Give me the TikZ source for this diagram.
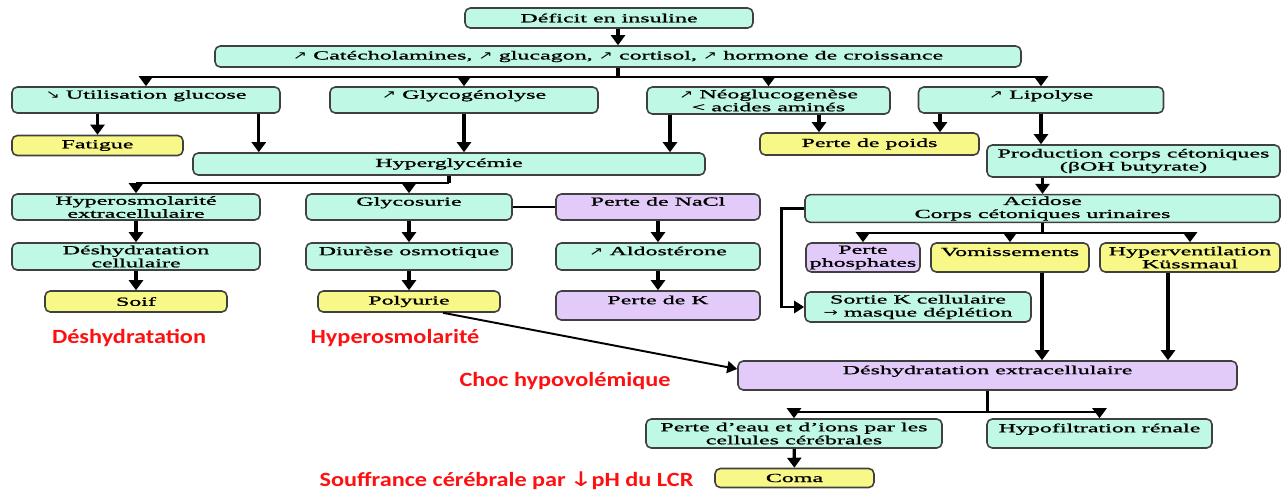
\documentclass[tikz,border=0pt]{standalone}
\usepackage{fontspec}
\setmainfont{Liberation Serif}[FakeStretch=1.95,FakeBold=1.2]
\newfontfamily\symfont{DejaVu Sans}[FakeStretch=1.5]
\newfontfamily\redfont{Carlito}[FakeStretch=1.2]
\usetikzlibrary{arrows.meta,calc}
\definecolor{cmint}{HTML}{BFF8E4}
\definecolor{cyel}{HTML}{F8F888}
\definecolor{cpurp}{HTML}{E2CBF8}
\definecolor{cred}{HTML}{FF1010}
\newcommand{\incr}{{\symfont\fontsize{6.5}{6.5}\selectfont ↗}}
\newcommand{\decr}{{\symfont\fontsize{6.5}{6.5}\selectfont ↘}}
\newcommand{\toarr}{{\symfont\fontsize{6.5}{6.5}\selectfont →}}

\begin{document}
\begin{tikzpicture}[
  box/.style={draw=black!75, line width=0.9pt, rounded corners=3pt, fill=cmint, inner sep=1pt, align=center, font=\fontsize{7}{7.4}\selectfont},
  ybox/.style={box, fill=cyel},
  pbox/.style={box, fill=cpurp},
  arr/.style={-{Triangle[length=2mm,width=2.8mm]}, line width=1.9pt},
  thinarr/.style={-{Triangle[length=2mm,width=2.4mm]}, line width=1.1pt},
  stem/.style={line width=1.9pt},
  bus/.style={line width=1.2pt},
  lab/.style={font=\redfont\bfseries\fontsize{11.5}{12}\selectfont, text=cred},
]
  \useasboundingbox (0,0) rectangle (25.66,-9.86);

  % Top: hormones
  \node[box, minimum width=5.76cm, minimum height=0.40cm] (def) at (12.18,-0.36) {Déficit en insuline};
  \node[box, minimum width=16.12cm, minimum height=0.42cm] (cat) at (12.36,-1.13) {\incr{} Catécholamines, \incr{} glucagon, \incr{} cortisol, \incr{} hormone de croissance};

  \node[box, minimum width=5.36cm, minimum height=0.52cm] (util) at (2.92,-2.00) {\decr{} Utilisation glucose\\[-1ex]\strut};
  \node[box, minimum width=5.36cm, minimum height=0.52cm] (glyco) at (9.28,-2.00) {\incr{} Glycogénolyse\\[-1ex]\strut};
  \node[box, minimum width=4.86cm, minimum height=0.54cm] (neo) at (15.37,-2.01) {\incr{} Néoglucogenèse\\< acides aminés};
  \node[box, minimum width=4.90cm, minimum height=0.52cm] (lipo) at (20.82,-2.00) {\incr{} Lipolyse\\[-1ex]\strut};

  \node[ybox, minimum width=3.42cm, minimum height=0.40cm] (fat) at (1.95,-2.91) {Fatigue};
  \node[box, minimum width=10.24cm, minimum height=0.44cm] (hyper) at (8.98,-3.28) {Hyperglycémie};
  \node[ybox, minimum width=4.38cm, minimum height=0.44cm] (poids) at (17.39,-2.88) {Perte de poids};
  \node[box, minimum width=5.86cm, minimum height=0.64cm] (keto) at (22.67,-3.22) {Production corps cétoniques\\(βOH butyrate)};

  % Middle: osmotic side and acidosis side
  \node[box, minimum width=4.96cm, minimum height=0.52cm] (hyperosm) at (2.72,-4.14) {Hyperosmolarité\\extracellulaire};
  \node[box, minimum width=4.12cm, minimum height=0.52cm] (glycos) at (8.18,-4.14) {Glycosurie\\[-1ex]\strut};
  \node[pbox, minimum width=4.08cm, minimum height=0.52cm] (nacl) at (13.16,-4.14) {Perte de NaCl\\[-1ex]\strut};
  \node[box, minimum width=9.50cm, minimum height=0.54cm] (acid) at (20.85,-4.17) {Acidose\\Corps cétoniques urinaires};

  \node[box, minimum width=4.96cm, minimum height=0.54cm] (deshyc) at (2.72,-5.13) {Déshydratation\\cellulaire};
  \node[box, minimum width=4.12cm, minimum height=0.54cm] (diur) at (8.18,-5.13) {Diurèse osmotique\\[-1ex]\strut};
  \node[box, minimum width=4.08cm, minimum height=0.54cm] (aldo) at (13.16,-5.13) {\incr{} Aldostérone\\[-1ex]\strut};
  \node[pbox, minimum width=2.28cm, minimum height=0.58cm] (phos) at (17.26,-5.15) {Perte\\phosphates};
  \node[ybox, minimum width=3.16cm, minimum height=0.58cm] (vomi) at (20.20,-5.15) {Vomissements\\[-1ex]\strut};
  \node[ybox, minimum width=3.60cm, minimum height=0.58cm] (hyperv) at (23.80,-5.15) {Hyperventilation\\Küssmaul};

  \node[ybox, minimum width=3.64cm, minimum height=0.42cm] (soif) at (2.72,-6.03) {Soif};
  \node[ybox, minimum width=3.64cm, minimum height=0.42cm] (polyu) at (8.18,-6.03) {Polyurie};
  \node[pbox, minimum width=4.08cm, minimum height=0.58cm] (permk) at (13.16,-6.11) {Perte de K\\[-1ex]\strut};
  \node[box, minimum width=4.52cm, minimum height=0.60cm] (sortie) at (18.36,-6.14) {Sortie K cellulaire\\\toarr{} masque déplétion};

  % Bottom
  \node[pbox, minimum width=9.98cm, minimum height=0.58cm] (dehex) at (19.75,-7.51) {Déshydratation extracellulaire\\[-1ex]\strut};
  \node[box, minimum width=5.92cm, minimum height=0.58cm] (eau) at (15.88,-8.67) {Perte d'eau et d'ions par les\\cellules cérébrales};
  \node[box, minimum width=4.50cm, minimum height=0.58cm] (hypof) at (21.99,-8.67) {Hypofiltration rénale\\[-1ex]\strut};
  \node[ybox, minimum width=3.18cm, minimum height=0.38cm] (coma) at (15.89,-9.56) {Coma};

  % Red labels
  \node[lab] (l1) at (2.58,-6.76) {Déshydratation};
  \node[lab] (l2) at (7.90,-6.76) {Hyperosmolarité};
  \node[lab] (l3) at (11.30,-7.62) {Choc hypovolémique};
  \node[lab] (l4) at (10.13,-9.62) {Souffrance cérébrale par\hspace{0.12em}{\symfont\mdseries↓}\hspace{-0.1em}pH du LCR};

  % Connectors: top
  \draw[arr] (cat.north |- def.south) -- (cat.north);
  \draw[stem] (cat.south) -- ++(0,-0.18) coordinate (b1);
  \draw[bus] (util.north |- b1) -- (lipo.north |- b1);
  \foreach \n in {util,glyco,neo,lipo} \draw[arr] (\n.north |- b1) -- (\n.north);

  \draw[arr] (fat.north |- util.south) -- (fat.north);
  \coordinate (xu) at ([xshift=-0.44cm]util.south east);
  \draw[arr] (xu) -- (xu |- hyper.north);
  \draw[arr] (glyco) -- (glyco |- hyper.north);
  \coordinate (xn) at ([xshift=-1.97cm]neo.south);
  \draw[arr] (xn) -- (xn |- hyper.north);
  \coordinate (xp1) at ([xshift=1.01cm]neo.south);
  \draw[arr] (xp1) -- (xp1 |- poids.north);
  \coordinate (xp2) at ([xshift=-2.02cm]lipo.south);
  \draw[arr] (xp2) -- (xp2 |- poids.north);
  \draw[arr] (lipo) -- (lipo |- keto.north);

  % Connectors: middle
  \draw[stem] (hyper.south) -- ++(0,-0.15) coordinate (b2);
  \draw[bus] (hyperosm.north |- b2) -- (b2);
  \foreach \n in {hyperosm,glycos} \draw[arr] (\n.north |- b2) -- (\n.north);
  \draw[line width=0.9pt] (glycos) -- (nacl);

  \draw[arr] (hyperosm) -- (deshyc);
  \draw[arr] (deshyc) -- (soif);
  \draw[arr] (glycos) -- (diur);
  \draw[arr] (diur) -- (polyu);
  \draw[arr] (nacl) -- (aldo);
  \draw[arr] (aldo) -- (permk);

  \draw[arr] (acid.north |- keto.south) -- (acid.north);
  \draw[stem] (acid.south) -- ++(0,-0.2) coordinate (b3);
  \draw[bus] (phos.north |- b3) -- (hyperv.north |- b3);
  \foreach \n in {phos,vomi,hyperv} \draw[arr] (\n.north |- b3) -- (\n.north);
  \draw[thinarr, line width=1.6pt] (acid.west) -- ++(-0.46,0) |- (sortie.west);

  % Connectors: bottom
  \draw[thinarr] ([xshift=0.68cm]polyu.south) -- ([yshift=0.13cm]dehex.west);
  \coordinate (xv) at ([xshift=0.64cm]vomi.south);
  \draw[arr] (xv) -- (xv |- dehex.north);
  \coordinate (xh) at ([xshift=-0.44cm]hyperv.south);
  \draw[arr] (xh) -- (xh |- dehex.north);

  \draw[stem] (dehex.south) -- ++(0,-0.42) coordinate (b4);
  \draw[bus] (eau.north |- b4) -- (hypof.north |- b4);
  \foreach \n in {eau,hypof} \draw[arr] (\n.north |- b4) -- (\n.north);
  \draw[arr] (eau) -- (coma);
\end{tikzpicture}
\end{document}
